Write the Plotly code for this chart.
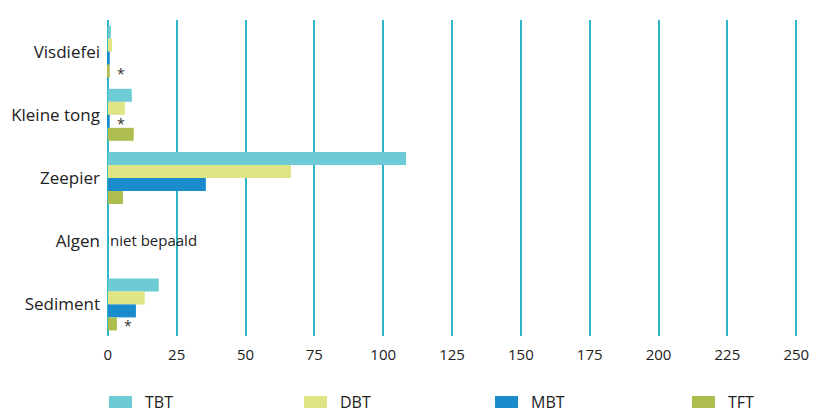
import plotly.graph_objects as go

categories = ["Visdiefei", "Kleine tong", "Zeepier", "Algen", "Sediment"]
series_names = ["TBT", "DBT", "MBT", "TFT"]
tbt = [1.1, 8.7, 108.3, None, 18.5]
dbt = [1.5, 6.2, 66.5, None, 13.4]
mbt = [0.7, 0.7, 35.6, None, 10.2]
tft = [0.7, 9.4, 5.5, None, 3.3]
colors = ["#6ccbd4", "#dfe584", "#1a8ccc", "#aebd4d"]
x_ticks = [0, 25, 50, 75, 100, 125, 150, 175, 200, 225, 250]

# asterisk notes: (category, series index, x value)
star_notes = [("Visdiefei", 3, 0.7), ("Kleine tong", 2, 0.7), ("Sediment", 3, 3.3)]
not_measured = ("Algen", "niet bepaald")

FONT = "Open Sans"
W, H = 815, 412
L, R, T, B = 107, 16, 20, 76
PW, PH = W - L - R, H - T - B
GRID = "#2bb7c8"

fig = go.Figure()
for name, vals, c in zip(series_names, [tbt, dbt, mbt, tft], colors):
    fig.add_trace(go.Bar(y=categories, x=vals, name=name, orientation="h",
                         marker=dict(color=c, line=dict(width=0)), showlegend=False))

bargap = 0.177
n = len(series_names)
bw = (1 - bargap) / n
for cat, si, xv in star_notes:
    ci = categories.index(cat)
    off = -(1 - bargap) / 2 + bw * (si + 0.5)
    fig.add_annotation(x=xv, y=ci + off, xref="x", yref="y", text="*",
                       showarrow=False, xanchor="left", xshift=5, yshift=-2,
                       font=dict(family=FONT, size=14, color="#333"))
fig.add_annotation(x=0, y=categories.index(not_measured[0]), xref="x", yref="y",
                   text=not_measured[1], showarrow=False, xanchor="left", xshift=0,
                   yshift=1, font=dict(family=FONT, size=15, color="#222"))

# legend drawn as swatches + labels (pixel positions converted to paper coords)
leg_x = [109, 304, 495, 692]
def px(xp):
    return (xp - L) / PW
def py(yp):
    return (H - B - yp) / PH
for name, c, x0 in zip(series_names, colors, leg_x):
    fig.add_shape(type="rect", xref="paper", yref="paper",
                  x0=px(x0), x1=px(x0 + 23), y0=py(408), y1=py(396),
                  fillcolor=c, line=dict(width=0))
    fig.add_annotation(xref="paper", yref="paper", x=px(x0 + 34), y=py(402),
                       text=name, showarrow=False, xanchor="left", yanchor="middle",
                       font=dict(family=FONT, size=16, color="#222"))

fig.update_layout(
    width=W, height=H, barmode="group", bargap=bargap, bargroupgap=0,
    plot_bgcolor="white", paper_bgcolor="white",
    margin=dict(l=L, r=R, t=T, b=B, autoexpand=False),
    font=dict(family=FONT, size=14, color="#222"),
    xaxis=dict(range=[-0.3, 251], tickvals=x_ticks, showgrid=True, gridcolor=GRID,
               gridwidth=1.5, zeroline=True, zerolinecolor=GRID, zerolinewidth=1.5,
               showline=False, ticks="",
               tickfont=dict(size=15), ticklabelstandoff=8, automargin=False),
    yaxis=dict(categoryorder="array", categoryarray=categories, autorange="reversed",
               showgrid=False, ticks="", tickfont=dict(size=17), showline=False,
               ticklabelstandoff=6, automargin=False),
    showlegend=False,
)
fig.write_html("out.html", config={"displayModeBar": False},
               post_script="document.body.style.margin='0';document.body.style.overflow='hidden';")
